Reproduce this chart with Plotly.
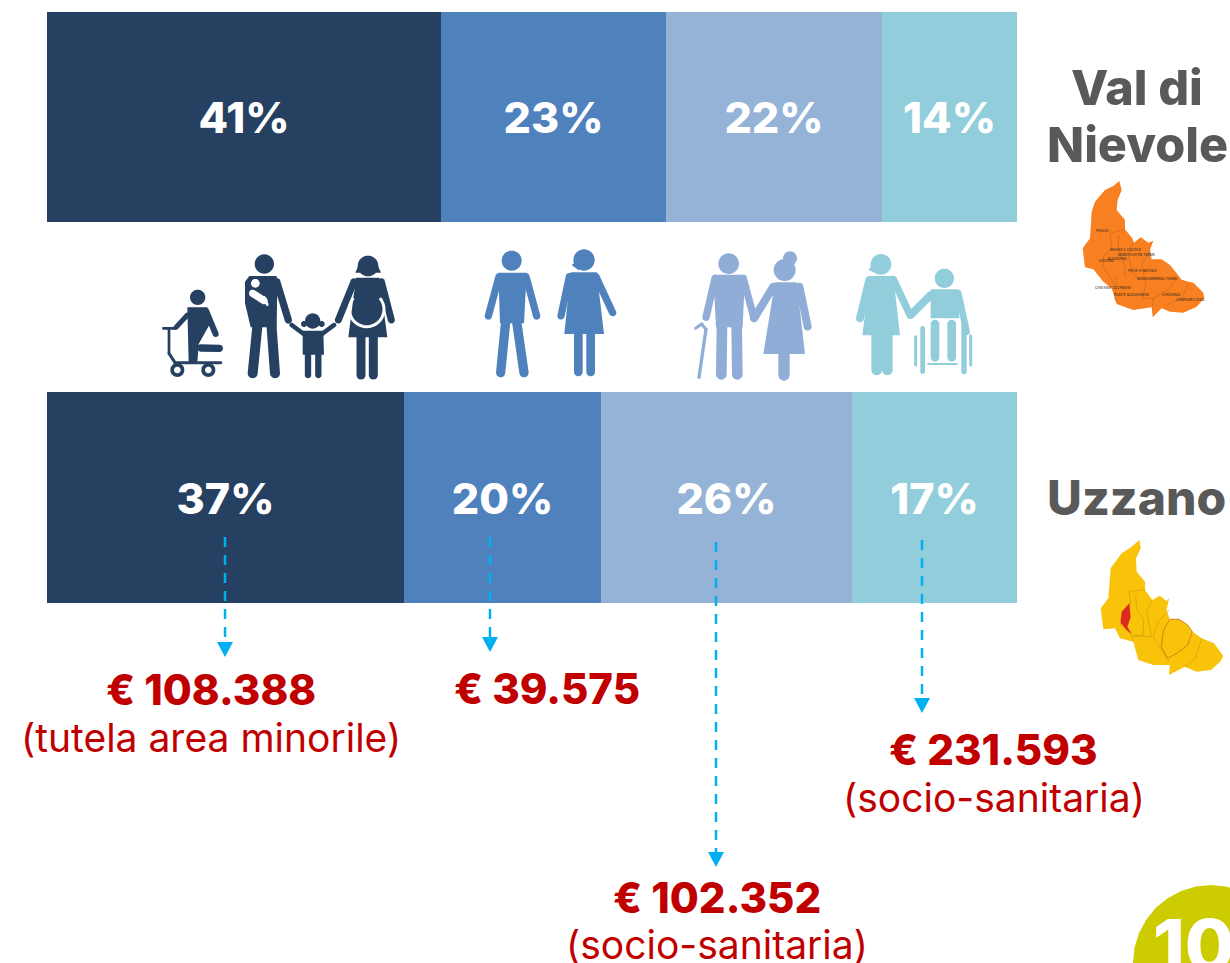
import math
import plotly.graph_objects as go

# ---------- data ----------
AREAS = ["Uzzano", "Val di Nievole"]
SEG_1 = [36.8, 40.6]
SEG_2 = [20.3, 23.2]
SEG_3 = [25.9, 22.3]
SEG_4 = [17.0, 13.9]
LABELS_1 = ["37%", "41%"]
LABELS_2 = ["20%", "23%"]
LABELS_3 = ["26%", "22%"]
LABELS_4 = ["17%", "14%"]
AMOUNTS = ["€ 108.388", "€ 39.575", "€ 102.352", "€ 231.593"]
NOTES = ["(tutela area minorile)", "", "(socio-sanitaria)", "(socio-sanitaria)"]
PAGE_NUMBER = "10"

W, H = 1230, 963
DARK, MID, SOFT, LIGHT = "#264061", "#4F81BD", "#95B3D7", "#92CDDC"
ICON_SOFT = "#8FADD6"
FONT = "Inter"
shapes = []


def X(p):
    return p / W


def Y(p):
    return 1 - p / H


def path_of(pts, close=True):
    s = "M" + "L".join(f"{X(a):.5f},{Y(b):.5f}" for a, b in pts)
    return s + ("Z" if close else "")


def add_poly(pts, color):
    shapes.append(dict(type="path", xref="paper", yref="paper", path=path_of(pts),
                       fillcolor=color, line=dict(width=0), layer="above"))


def add_open(pts, color, width, dash="solid"):
    shapes.append(dict(type="path", xref="paper", yref="paper", path=path_of(pts, False),
                       fillcolor="rgba(0,0,0,0)", line=dict(width=width, color=color, dash=dash),
                       layer="above"))


def circle(cx, cy, r, color):
    add_poly([(cx + r * math.cos(i * math.pi / 16), cy + r * math.sin(i * math.pi / 16))
              for i in range(32)], color)


def capsule(x0, y0, x1, y1, w, color):
    a = math.atan2(y1 - y0, x1 - x0)
    r = w / 2
    pts = []
    for i in range(9):
        t = a + math.pi / 2 + i * math.pi / 8
        pts.append((x0 + r * math.cos(t), y0 + r * math.sin(t)))
    for i in range(9):
        t = a - math.pi / 2 + i * math.pi / 8
        pts.append((x1 + r * math.cos(t), y1 + r * math.sin(t)))
    add_poly(pts, color)


def zoom_frame(ox, oy):
    def p(a, b):
        return (ox + a / 3, oy + b / 3)
    def c(a, b, r, col):
        circle(ox + a / 3, oy + b / 3, r / 3, col)
    def k(a, b, d, e, w, col):
        capsule(ox + a / 3, oy + b / 3, ox + d / 3, oy + e / 3, w / 3, col)
    def g(pts, col):
        add_poly([p(*q) for q in pts], col)
    return p, c, k, g


# ---------- icons, left group ----------
p, c, k, g = zoom_frame(150, 240)
# wheelchair user
c(143, 172, 23, DARK)
g([(112, 202), (172, 202), (180, 240), (178, 255), (146, 312), (142, 368), (116, 368)], DARK)
k(168, 212, 197, 282, 18, DARK)
k(112, 225, 78, 262, 15, DARK)
k(152, 324, 208, 325, 22, DARK)
k(40, 265, 75, 265, 8, DARK)
k(57, 265, 57, 340, 8, DARK)
k(57, 340, 75, 368, 9, DARK)
k(75, 368, 212, 368, 9, DARK)
for cx in (82, 175):
    c(cx, 390, 21, DARK)
    c(cx, 390, 10, "white")
# father
c(343, 72, 29, DARK)
g([(298, 108), (380, 108), (382, 130), (380, 262), (302, 262), (285, 190), (285, 125)], DARK)
k(323, 250, 308, 400, 30, DARK)
k(364, 250, 375, 400, 30, DARK)
g([(310, 240), (378, 240), (370, 258), (345, 258), (320, 258)], DARK)
k(380, 125, 415, 240, 22, DARK)
c(316, 130, 13, "white")
k(308, 160, 342, 182, 22, "white")
k(342, 172, 352, 194, 8, "white")
# child
c(488, 243, 23, DARK)
c(462, 252, 9, DARK)
c(515, 252, 9, DARK)
g([(458, 272), (520, 272), (522, 344), (458, 344)], DARK)
k(474, 340, 474, 405, 19, DARK)
k(505, 340, 505, 405, 19, DARK)
k(425, 255, 465, 285, 14, DARK)
k(552, 255, 512, 285, 14, DARK)
# mother
c(654, 78, 31, DARK)
g([(632, 60), (676, 60), (693, 98), (616, 98)], DARK)
g([(618, 113), (688, 113), (712, 292), (595, 292)], DARK)
k(633, 285, 633, 405, 27, DARK)
k(670, 285, 670, 405, 27, DARK)
k(612, 125, 565, 240, 21, DARK)
k(694, 125, 724, 240, 21, DARK)
add_open([p(650 + 52 * math.cos(t * math.pi / 18), 208 + 52 * math.sin(t * math.pi / 18))
          for t in range(-4, 23)], "white", 3)

# adult couple
c(1085, 62, 30, MID)
g([(1045, 98), (1130, 98), (1122, 250), (1050, 250)], MID)
k(1067, 245, 1052, 398, 28, MID)
k(1100, 245, 1122, 398, 28, MID)
k(1047, 110, 1015, 228, 22, MID)
k(1128, 110, 1160, 228, 22, MID)
c(1302, 60, 32, MID)
g([(1285, 60), (1265, 75), (1288, 92)], MID)
g([(1262, 97), (1340, 97), (1362, 282), (1243, 282)], MID)
k(1285, 275, 1285, 396, 26, MID)
k(1322, 275, 1322, 396, 26, MID)
k(1258, 110, 1233, 228, 22, MID)
k(1338, 110, 1388, 218, 22, MID)

# ---------- icons, right group ----------
p, c, k, g = zoom_frame(680, 240)
c(146, 71, 31, ICON_SOFT)
g([(100, 104), (195, 104), (188, 262), (108, 262)], ICON_SOFT)
k(126, 255, 124, 403, 32, ICON_SOFT)
k(170, 255, 172, 403, 32, ICON_SOFT)
k(105, 115, 78, 232, 22, ICON_SOFT)
k(190, 115, 222, 235, 22, ICON_SOFT)
k(57, 412, 78, 268, 10, ICON_SOFT)
k(78, 268, 65, 252, 9, ICON_SOFT)
k(65, 252, 47, 265, 9, ICON_SOFT)
c(314, 90, 33, ICON_SOFT)
c(330, 55, 21, ICON_SOFT)
g([(285, 127), (350, 127), (375, 342), (250, 342)], ICON_SOFT)
k(312, 335, 312, 405, 34, ICON_SOFT)
k(280, 140, 222, 235, 24, ICON_SOFT)
k(358, 140, 383, 260, 24, ICON_SOFT)

c(603, 73, 31, LIGHT)
g([(585, 60), (566, 90), (592, 102)], LIGHT)
g([(570, 108), (640, 108), (660, 286), (547, 286)], LIGHT)
k(590, 280, 590, 390, 32, LIGHT)
k(622, 280, 622, 390, 32, LIGHT)
k(568, 120, 540, 235, 24, LIGHT)
k(640, 118, 690, 225, 22, LIGHT)
c(793, 115, 29, LIGHT)
g([(752, 148), (835, 148), (838, 235), (752, 235)], LIGHT)
k(752, 165, 692, 225, 24, LIGHT)
k(835, 160, 860, 275, 20, LIGHT)
k(765, 252, 765, 352, 26, LIGHT)
k(815, 252, 815, 352, 26, LIGHT)
k(728, 265, 728, 395, 14, LIGHT)
k(707, 290, 707, 375, 9, LIGHT)
k(852, 250, 852, 395, 16, LIGHT)
k(872, 288, 872, 375, 9, LIGHT)
k(745, 372, 830, 372, 6, LIGHT)

# ---------- maps ----------
p, c, k, g = zoom_frame(1070, 170)
outline_a = [(148, 33), (155, 60), (143, 90), (140, 120), (165, 150), (165, 178), (187, 205), (192, 218),
             (212, 202), (235, 218), (250, 212), (240, 240), (245, 268), (275, 268), (300, 285), (320, 310),
             (335, 330), (370, 338), (400, 368), (403, 385), (380, 410), (340, 428), (300, 425), (275, 415),
             (248, 442), (245, 412), (190, 420), (140, 402), (125, 355), (100, 335), (70, 298), (45, 292),
             (38, 235), (60, 205), (65, 125), (75, 95), (105, 60), (130, 48)]
g(outline_a, "#F98020")
borders_a = [[(120, 190), (125, 235), (100, 260), (100, 290), (125, 330), (135, 350)],
             [(120, 190), (165, 178)],
             [(145, 195), (145, 235), (165, 290), (165, 320)],
             [(140, 320), (135, 390), (150, 402)],
             [(190, 218), (175, 250), (185, 305), (215, 335)],
             [(240, 240), (215, 290), (228, 340), (218, 385)],
             [(320, 325), (295, 360), (250, 385), (218, 385)],
             [(250, 385), (248, 410)],
             [(335, 330), (355, 345), (335, 385), (290, 405)]]
for b in borders_a:
    add_open([p(*q) for q in b], "#B86A20", 0.6)

p0, c, k, g0 = zoom_frame(1090, 530)


def p(a, b):
    return p0(a - max(a - 200, 0) * 0.07, b)


def g(pts, col):
    add_poly([p(*q) for q in pts], col)


outline_b = [(148, 30), (152, 55), (138, 85), (140, 125), (165, 155), (165, 180), (187, 210), (210, 197),
             (232, 213), (240, 205), (232, 240), (242, 268), (272, 268), (300, 285), (315, 305), (345, 325),
             (385, 340), (415, 378), (405, 395), (375, 420), (330, 425), (290, 410), (240, 435), (242, 405),
             (190, 405), (145, 390), (130, 335), (90, 325), (75, 295), (40, 298), (32, 235), (55, 205),
             (62, 115), (95, 70), (125, 50)]
g(outline_b, "#F9C30A")
borders_b = [[(118, 185), (122, 222), (92, 262), (92, 285), (125, 315), (130, 335)],
             [(118, 185), (165, 178)],
             [(137, 195), (140, 240), (160, 265), (160, 315), (130, 318)],
             [(187, 210), (170, 245), (185, 320)],
             [(240, 240), (205, 275), (190, 320), (240, 395)],
             [(130, 318), (185, 320)],
             [(345, 325), (325, 385), (290, 410)]]
for b in borders_b:
    add_open([p(*q) for q in b], "#C89A10", 0.6)
add_open([p(*q) for q in [(242, 268), (272, 268), (300, 285), (315, 305), (300, 345), (265, 370),
                          (235, 385), (215, 350), (222, 300), (242, 268)]], "#D07A12", 0.9)
g([(118, 220), (122, 262), (112, 290), (125, 312), (110, 300), (92, 278), (95, 245)], "#DD2A1E")

# ---------- page badge ----------
circle(1211, 963, 78, "#CCCC00")

# ---------- dashed arrows ----------
for ax, y0, y1 in [(225, 537, 657), (490, 537, 652), (716, 542, 867), (922, 540, 713)]:
    add_open([(ax, y0), (ax, y1 - 15)], "#00B0F0", 2.5, "10px,8px")
    add_poly([(ax - 8, y1 - 15), (ax + 8, y1 - 15), (ax, y1)], "#00B0F0")


# ---------- bars ----------
def bar(values, labels, color):
    return go.Bar(y=AREAS, x=values, orientation="h", marker=dict(color=color, line=dict(width=0)),
                  text=labels, textposition="inside", insidetextanchor="middle",
                  textangle=0, constraintext="none",
                  textfont=dict(family=FONT, size=43, color="white", weight=800),
                  hoverinfo="skip", showlegend=False)


fig = go.Figure([bar(SEG_1, LABELS_1, DARK), bar(SEG_2, LABELS_2, MID),
                 bar(SEG_3, LABELS_3, SOFT), bar(SEG_4, LABELS_4, LIGHT)])

# ---------- annotations ----------
annotations = []


def note(text, cx, cy, size, color, weight=400, anchor="center"):
    annotations.append(dict(text=text, x=X(cx), y=Y(cy), xref="paper", yref="paper",
                            xanchor=anchor, yanchor="middle", showarrow=False, align="center",
                            font=dict(family=FONT, size=size, color=color, weight=weight)))


GREY = "#595959"
note("Val di", 1137, 88, 48.5, GREY, 800)
note("Nievole", 1137, 144, 48.5, GREY, 800)
note(AREAS[0], 1136, 497, 48, GREY, 800)
RED = "#C00000"
for amount, text, ax, ay, bx, by in [
    (AMOUNTS[0], NOTES[0], 210.5, 689, 210.5, 737),
    (AMOUNTS[1], NOTES[1], 546.5, 688, 546.5, 737),
    (AMOUNTS[2], NOTES[2], 717, 897, 716.5, 944),
    (AMOUNTS[3], NOTES[3], 993.5, 749, 993.5, 797),
]:
    note(amount, ax, ay, 42, RED, 800)
    if text:
        note(text, bx, by, 39, RED, 400)
# small place names on the first map
for name, zx, zy in [("PESCIA", 98, 183), ("MASSA E COZZILE", 165, 241), ("MONTECATINI TERME", 200, 255),
                     ("BUGGIANO", 142, 268), ("UZZANO", 108, 273), ("PIEVE A NIEVOLE", 218, 303),
                     ("MONSUMMANO TERME", 262, 327), ("CHIESINA UZZANESE", 130, 354),
                     ("PONTE BUGGIANESE", 185, 375), ("LARCIANO", 303, 375), ("LAMPORECCHIO", 360, 389)]:
    note(name, 1070 + zx / 3, 170 + zy / 3, 3.5, "#222222")
note(PAGE_NUMBER, 1151, 944, 72, "white", 800, "left")

pitch = 380.5
fig.update_layout(
    width=W, height=H, margin=dict(l=0, r=0, t=0, b=0), barmode="stack", bargap=0,
    paper_bgcolor="white", plot_bgcolor="rgba(0,0,0,0)", showlegend=False,
    xaxis=dict(domain=[47 / W, 1017 / W], range=[0, 100], visible=False, fixedrange=True),
    yaxis=dict(domain=[0, 1], range=[-(H - 497.5) / pitch, 1 + 117 / pitch], visible=False, fixedrange=True),
    shapes=shapes, annotations=annotations,
)
fig.update_traces(width=210.5 / pitch)

fig.write_html("out.html", config=dict(displayModeBar=False),
               post_script="document.body.style.margin='0';document.documentElement.style.overflow='hidden';")
